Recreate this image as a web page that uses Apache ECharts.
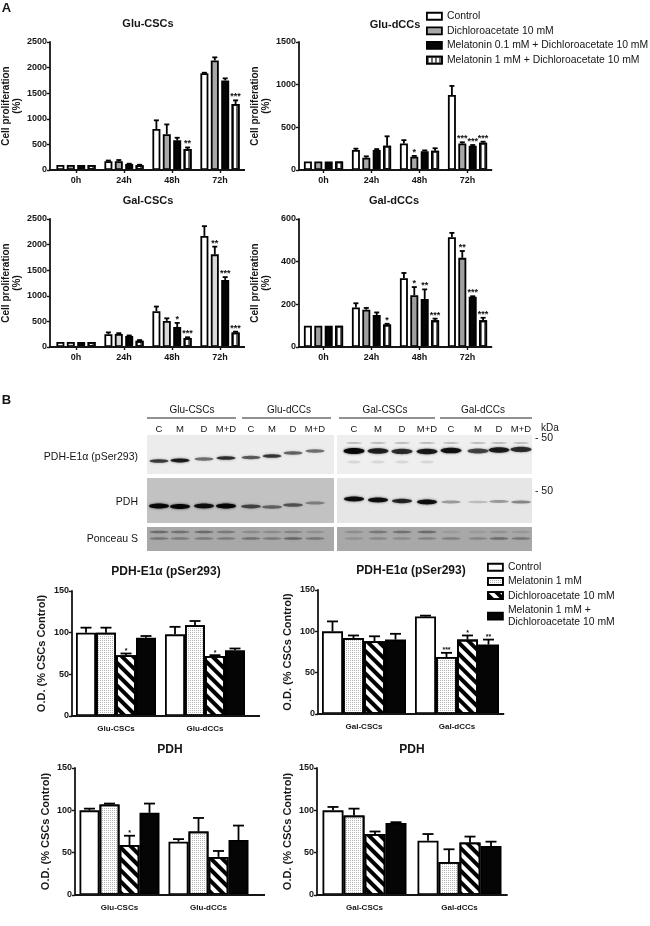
<!DOCTYPE html>
<html><head><meta charset="utf-8">
<style>html,body{margin:0;padding:0;background:#fff}#c{width:650px;height:926px;filter:blur(0.35px)}</style>
<script src="https://cdn.jsdelivr.net/npm/echarts@6/dist/echarts.min.js"></script>
</head><body><div id="c"></div>
<script>
// ---------- data ----------
const timeCats = ['0h','24h','48h','72h'];
const namesA = ['Control','Dichloroacetate 10 mM','Melatonin 0.1 mM + Dichloroacetate 10 mM','Melatonin 1 mM + Dichloroacetate 10 mM'];
const namesB = ['Control','Melatonin 1 mM','Dichloroacetate 10 mM','Melatonin 1 mM +\nDichloroacetate 10 mM'];

const gluCscVal = [[100,170,800,1890],[100,170,700,2140],[100,115,580,1750],[100,95,410,1290]];
const gluCscErr = [[0,15,170,10],[0,25,190,60],[0,8,50,40],[0,8,30,70]];
const gluCscStar = [['','','',''],['','','',''],['','','',''],['','','**','***']];

const gluDccVal = [[100,235,310,880],[100,145,155,310],[100,235,220,285],[100,285,225,320]];
const gluDccErr = [[0,15,40,105],[0,15,10,15],[0,10,10,8],[0,110,30,12]];
const gluDccStar = [['','','',''],['','','*','***'],['','','','***'],['','','','***']];

const galCscVal = [[100,250,700,2170],[100,255,510,1810],[100,215,390,1310],[100,120,175,285]];
const galCscErr = [[0,35,90,190],[0,15,50,150],[0,10,80,55],[0,15,15,15]];
const galCscStar = [['','','',''],['','','','**'],['','','*','***'],['','','***','***']];

const galDccVal = [[100,185,322,515],[100,175,243,418],[100,150,225,235],[100,105,125,125]];
const galDccErr = [[0,20,25,20],[0,8,38,32],[0,12,45,3],[0,4,8,12]];
const galDccStar = [['','','',''],['','','*','**'],['','','**','***'],['','*','***','***']];

const gluCats = ['Glu-CSCs','Glu-dCCs'];
const galCats = ['Gal-CSCs','Gal-dCCs'];

const pserGluVal = [[100,98],[100,109],[73,72],[94,79]];
const pserGluErr = [[6,9],[6,5],[2,1],[2,2]];
const pserGluStar = [['',''],['',''],['*','*'],['','']];

const pserGalVal = [[100,118],[92,69],[88,90],[90,84]];
const pserGalErr = [[12,1],[3,5],[6,5],[7,6]];
const pserGalStar = [['',''],['','***'],['','*'],['','**']];

const pdhGluVal = [[100,63],[107,75],[59,45],[97,65]];
const pdhGluErr = [[2,3],[1,16],[11,7],[11,17]];
const pdhGluStar = [['',''],['',''],['*',''],['','']];

const pdhGalVal = [[100,64],[94,39],[72,62],[85,58]];
const pdhGalErr = [[4,8],[8,15],[3,7],[1,5]];
const pdhGalStar = [['',''],['',''],['',''],['','']];

const laneLabels = ['C','M','D','M+D'];
const blotGroups = ['Glu-CSCs','Glu-dCCs','Gal-CSCs','Gal-dCCs'];
const blotRows = ['PDH-E1\u03b1 (pSer293)','PDH','Ponceau S'];
// band darkness per lane, 0..1
const pSerBands = [.72,.88,.5,.78,.58,.74,.55,.5,1,.85,.78,.88,.92,.68,.86,.78];
const pdhBands = [1,1,.92,1,.62,.48,.55,.35,.95,.95,.82,.95,.32,.18,.32,.4];
const ponceauTop = [.5,.45,.5,.38,.25,.25,.3,.2,.22,.4,.45,.5,.12,.12,.18,.15];
const ponceauLow = [.42,.38,.38,.38,.45,.38,.55,.42,.2,.28,.25,.32,.35,.3,.5,.42];

// ---------- layout ----------
const FONT = '"Liberation Sans", Arial, sans-serif';
const INK = '#151515';
const LW = 1.8;
const decalStripes = {symbol:'rect',symbolSize:1,dashArrayX:[1.6,1.6],dashArrayY:[4,0],color:'#6a6a6a'};
const decalDots = {symbol:'rect',symbolSize:1,dashArrayX:[1,1],dashArrayY:[1,1],color:'#b5b5b5'};
const decalHatch = {symbol:'rect',symbolSize:1,dashArrayX:[1,0],dashArrayY:[3.2,3.2],rotation:Math.PI/4,color:'#000'};

const styleA = g => [
  {color:'#fff'},{color:g},{color:'#050505'},{color:'#fff',decal:decalStripes}];
const styleB = [
  {color:'#fff'},{color:'#fff',decal:decalDots},{color:'#fff',decal:decalHatch},{color:'#050505'}];

const panels = [
 {title:'Glu-CSCs',tx:148,ty:23.5,axisX:50,endX:245,left:52,right:244,top:42,bottom:170,max:2500,int:500,cats:timeCats,val:gluCscVal,err:gluCscErr,star:gluCscStar,names:namesA,style:styleA('#a8a8a8'),big:true,nameGap:24.5},
 {title:'Glu-dCCs',tx:395,ty:24.5,axisX:299,endX:492,left:299.5,right:491.5,top:42,bottom:170,max:1500,int:500,cats:timeCats,val:gluDccVal,err:gluDccErr,star:gluDccStar,names:namesA,style:styleA('#a8a8a8'),big:true,nameGap:27},
 {title:'Gal-CSCs',tx:148,ty:200.5,axisX:50,endX:245,left:52,right:244,top:219,bottom:347,max:2500,int:500,cats:timeCats,val:galCscVal,err:galCscErr,star:galCscStar,names:namesA,style:styleA('#d8d8d8'),big:true,nameGap:24.5},
 {title:'Gal-dCCs',tx:394,ty:200.5,axisX:299,endX:491,left:299.5,right:491.5,top:219,bottom:347,max:600,int:200,cats:timeCats,val:galDccVal,err:galDccErr,star:galDccStar,names:namesA,style:styleA('#a0a0a0'),big:true,nameGap:27},
 {title:'PDH-E1\u03b1 (pSer293)',tx:166,ty:572,axisX:72,endX:260,left:71.5,right:249.5,top:591,bottom:716,max:150,int:50,cats:gluCats,val:pserGluVal,err:pserGluErr,star:pserGluStar,names:namesB,style:styleB,big:false,nameGap:24},
 {title:'PDH-E1\u03b1 (pSer293)',tx:411,ty:571,axisX:318,endX:504,left:317.5,right:503.5,top:590,bottom:714,max:150,int:50,cats:galCats,val:pserGalVal,err:pserGalErr,star:pserGalStar,names:namesB,style:styleB,big:false,nameGap:24},
 {title:'PDH',tx:170,ty:750,axisX:75,endX:265,left:75,right:253,top:768,bottom:895,max:150,int:50,cats:gluCats,val:pdhGluVal,err:pdhGluErr,star:pdhGluStar,names:namesB,style:styleB,big:false,nameGap:23},
 {title:'PDH',tx:412,ty:750,axisX:317,endX:507,left:317,right:507,top:768,bottom:895,max:150,int:50,cats:galCats,val:pdhGalVal,err:pdhGalErr,star:pdhGalStar,names:namesB,style:styleB,big:false,nameGap:23}
];

const grid=[],xAxis=[],yAxis=[],series=[],title=[];
const graphic=[];
const txt=(text,x,y,o={})=>graphic.push({type:'text',x,y,silent:true,style:{text,fill:INK,font:`${o.weight||'normal'} ${o.size||10}px ${FONT}`,textAlign:o.align||'center',textVerticalAlign:'middle'}});

panels.forEach((p,i)=>{
  grid.push({left:p.left,width:p.right-p.left,top:p.top,height:p.bottom-p.top,containLabel:false,outerBoundsMode:'none'});
  title.push({text:p.title,left:p.tx,top:p.ty-7,textAlign:'center',padding:0,textStyle:{fontFamily:FONT,fontWeight:'bold',fontSize:p.big?11:12,color:INK,lineHeight:14}});
  xAxis.push({type:'category',gridIndex:i,data:p.cats,
    axisLine:{lineStyle:{color:INK,width:LW}},
    axisTick:{show:p.big,length:3,alignWithLabel:true,lineStyle:{color:INK,width:1.4}},
    axisLabel:{fontFamily:FONT,fontWeight:'bold',fontSize:p.big?9:8,color:INK,margin:p.big?6:9,interval:0}});
  yAxis.push({type:'value',gridIndex:i,min:0,max:p.max,interval:p.int,offset:p.left-p.axisX,
    name:p.big?'Cell proliferation\n(%)':'O.D. (% CSCs Control)',nameLocation:'middle',nameRotate:90,nameGap:p.nameGap,
    nameTextStyle:{fontFamily:FONT,fontWeight:'bold',fontSize:p.big?10:11,color:INK,lineHeight:11.5},
    axisLine:{show:true,lineStyle:{color:INK,width:LW}},
    axisTick:{show:true,length:3,lineStyle:{color:INK,width:1.4}},
    splitLine:{show:false},
    axisLabel:{fontFamily:FONT,fontWeight:'bold',fontSize:9,color:INK,margin:3,formatter:v=>String(v)}});
  const bandW=(p.right-p.left)/p.cats.length;
  const barW=p.big?8:(bandW>92?21:20);
  const step=p.big?10.4:barW;
  p.val.forEach((vals,s)=>{
    series.push({type:'bar',name:p.names[s],xAxisIndex:i,yAxisIndex:i,data:vals,barWidth:barW,
      barGap:((step-barW)/barW*100)+'%',silent:true,
      itemStyle:Object.assign({borderColor:'#000',borderWidth:LW},p.style[s])});
  });
  const errData=[];
  p.val.forEach((vals,s)=>vals.forEach((v,c)=>errData.push([c,v,p.err[s][c],s,p.star[s][c]])));
  series.push({type:'custom',xAxisIndex:i,yAxisIndex:i,silent:true,z:5,data:errData,
    encode:{x:0,y:1},
    renderItem(params,api){
      const c=api.value(0),v=api.value(1),e=api.value(2),s=api.value(3);
      const star=errData[params.dataIndex][4];
      const x=api.coord([c,0])[0]+(s-1.5)*step;
      const y0=api.coord([c,v])[1],y1=api.coord([c,v+e])[1];
      const cap=p.big?2.5:5.5;
      const kids=[];
      if(e>0){
        kids.push({type:'line',shape:{x1:x,y1:y0,x2:x,y2:y1},style:{stroke:'#000',lineWidth:LW}});
        kids.push({type:'line',shape:{x1:x-cap,y1:y1,x2:x+cap,y2:y1},style:{stroke:'#000',lineWidth:LW}});
      }
      if(star)kids.push({type:'text',x:x,y:y1+1,style:{text:star,fill:'#111',font:`bold ${p.big?9:7}px ${FONT}`,textAlign:'center',textVerticalAlign:'bottom'}});
      return {type:'group',children:kids};
    }});
  graphic.push({type:'line',silent:true,shape:{x1:p.axisX-0.9,y1:p.bottom,x2:p.endX,y2:p.bottom},style:{stroke:INK,lineWidth:LW},z:6});
});

// section letters
txt('A',6.5,8.5,{size:13,weight:'bold'});
txt('B',6.5,400,{size:13,weight:'bold'});

// western blot panels
const laneX=[159,180,204,226,251,272,293,315,354,378,402,427,451,478,499,521];
const rowsGeo=[{y:435,h:39},{y:478,h:45},{y:527,h:24}];
const headerGeo=[[147,236,192],[242,331,289],[339,435,385],[440,532,483]];
const panelGeo=[[147,187],[337,195]];
const panelFill=[['#ececec','#efefef'],['#c2c2c2','#e6e6e6'],['#a8a8a8','#a8a8a8']];
headerGeo.forEach((h,i)=>{
  txt(blotGroups[i],h[2],410,{size:10});
  graphic.push({type:'line',silent:true,shape:{x1:h[0],y1:418,x2:h[1],y2:418},style:{stroke:'#222',lineWidth:1}});
});
laneX.forEach((x,i)=>txt(laneLabels[i%4],x,429,{size:9.5}));
txt('kDa',550,428,{size:10});
txt('- 50',544,438.5,{size:10.5});
txt('- 50',544,491,{size:10.5});
blotRows.forEach((r,i)=>txt(r,138,[457,502,539][i],{size:10.5,align:'right'}));
rowsGeo.forEach((r,ri)=>panelGeo.forEach((pg,pi)=>{
  graphic.push({type:'rect',silent:true,shape:{x:pg[0],y:r.y,width:pg[1],height:r.h},style:{fill:panelFill[ri][pi]}});
}));
const band=(x,y,rx,ry,d)=>{
  graphic.push({type:'ellipse',silent:true,z:2,shape:{cx:x,cy:y,rx,ry},style:{fill:`rgba(0,0,0,${d*.92})`,shadowBlur:2.5,shadowColor:`rgba(0,0,0,${d*.8})`}});
};
const pSerY=[461,460.5,459,458,457.5,456,453,451,451,451,451.5,451.5,450.5,451,450,449.5];
const pdhY=[506,506.5,506,506,506.5,507,505,503,499,500,501,502,502,502,501.5,502];
laneX.forEach((x,i)=>{
  band(x,pSerY[i],i<8?9.5:10.5,1.4+pSerBands[i]*(i<8?.6:1.6),pSerBands[i]);
  band(x,pdhY[i],10,1+pdhBands[i]*1.5,pdhBands[i]);
  if(i>=8){band(x,443,8,1,.2);if(i<12){band(x,462,7,1.5,.1);}}
  band(x,532,9.5,1.3,ponceauTop[i]*.7);
  band(x,538.5,9.5,1.3,ponceauLow[i]*.7);
});

const legendText={fontFamily:FONT,fontSize:10.4,color:INK,lineHeight:12.5};
const legItem=(n,st)=>({name:n,icon:'rect',itemStyle:Object.assign({borderColor:'#000',borderWidth:LW},st)});
const legend=[
 {left:426,top:10,orient:'vertical',itemWidth:15,itemHeight:7,itemGap:2.1,selectedMode:false,textStyle:legendText,padding:0,
  data:namesA.map((n,i)=>legItem(n,styleA('#a8a8a8')[i]))},
 {left:487,top:561,orient:'vertical',itemWidth:15,itemHeight:7,itemGap:1.7,selectedMode:false,textStyle:legendText,padding:0,
  data:namesB.map((n,i)=>legItem(n,styleB[i]))}
];

const chart=echarts.init(document.getElementById('c'),null,{renderer:'canvas',width:650,height:926});
chart.setOption({animation:false,backgroundColor:'#fff',textStyle:{fontFamily:FONT},
  title,grid,xAxis,yAxis,series,legend,graphic:{elements:graphic}});
</script></body></html>
